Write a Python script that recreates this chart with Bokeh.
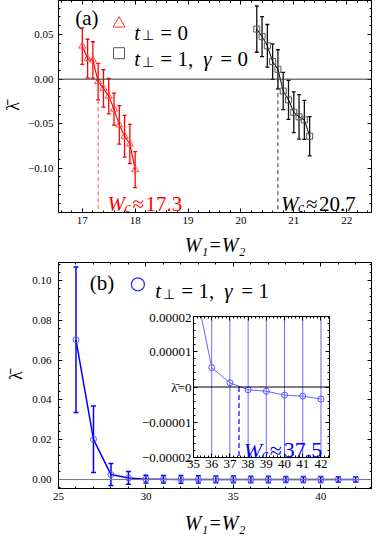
from bokeh.plotting import figure
from bokeh.models import (Range1d, SingleIntervalTicker, CustomJSTickFormatter, LinearAxis,
                          Span, Whisker, TeeHead, ColumnDataSource, Label)
from bokeh.layouts import column
from bokeh.embed import file_html
from bokeh.resources import INLINE

FONT = "Liberation Serif"

# ---------------- panel (a) data ----------------
w_red = [17.0, 17.1, 17.2, 17.3, 17.4, 17.5, 17.6, 17.7, 17.8, 17.9, 18.0]
lam_red = [0.0372, 0.0232, 0.0216, -0.0028, -0.0104, -0.0191, -0.0337, -0.0514, -0.0642, -0.0729, -0.1018]
err_red = [0.0205, 0.0217, 0.0205, 0.0205, 0.0210, 0.0200, 0.0180, 0.0217, 0.0234, 0.0220, 0.0203]

w_blk = [20.3, 20.4, 20.5, 20.6, 20.7, 20.8, 20.9, 21.0, 21.1, 21.2, 21.3]
lam_blk = [0.0563, 0.0479, 0.0375, 0.0198, 0.0111, -0.0133, -0.0233, -0.0372, -0.0424, -0.0458, -0.0642]
err_blk = [0.0260, 0.0225, 0.0240, 0.0200, 0.0220, 0.0210, 0.0220, 0.0230, 0.0250, 0.0220, 0.0220]

wc_red = 17.3
wc_blk = 20.7

# ---------------- panel (b) data ----------------
w_blue = [26, 27, 28, 29, 30, 31, 32, 33, 34, 35, 36, 37, 38, 39, 40, 41, 42]
lam_blue = [0.0702, 0.0202, 0.0025, 0.0008, 0.0002, 0.00012, 0.00008, 0.00005, 0.00004,
            0.000031, 0.0000055, 0.0000012, -0.0000008, -0.0000012, -0.0000023, -0.0000026, -0.0000034]
err_blue = [0.0365, 0.0167, 0.0055, 0.0032, 0.0020, 0.0019, 0.0019, 0.0018, 0.0017,
            0.0017, 0.0016, 0.0016, 0.0015, 0.0015, 0.0015, 0.0014, 0.0014]
wc_blue = 37.5
inset_min_w = 35


def style_axis(ax, fs="11px"):
    ax.major_tick_in = 4
    ax.major_tick_out = 0
    ax.minor_tick_in = 2
    ax.minor_tick_out = 0
    ax.axis_line_color = "black"
    ax.major_tick_line_color = "black"
    ax.minor_tick_line_color = "black"
    ax.major_label_text_font = FONT
    ax.major_label_text_font_size = fs
    ax.major_label_text_color = "black"
    ax.axis_label_text_font = FONT
    ax.axis_label_text_color = "black"


def add_frame_axes(p, xt, yt):
    for loc, tk in (("above", xt), ("right", yt)):
        ax = LinearAxis(ticker=tk, formatter=CustomJSTickFormatter(code="return '';"),
                        major_label_standoff=0)
        style_axis(ax, "0px")
        p.add_layout(ax, loc)


def lab(p, x, y, txt, size, color, italic=False, dx=0, dy=0, align="left", baseline="alphabetic"):
    p.add_layout(Label(x=x, y=y, text=txt, x_offset=dx, y_offset=dy, text_font=FONT,
                       text_font_size=f"{size}px", text_color=color,
                       text_font_style="italic" if italic else "normal",
                       text_align=align, text_baseline=baseline))


fmt2 = CustomJSTickFormatter(code="""
if (Math.abs(tick) < 1e-9) return '0.00';
var s = Math.abs(tick).toFixed(2);
return (tick < 0 ? '\u2212' : '') + s;
""")

# ================= panel (a) =================
p1 = figure(width=374, height=258, x_range=Range1d(16.55, 22.47), y_range=Range1d(-0.15, 0.0885),
            output_backend="svg", toolbar_location=None,
            min_border_left=55, min_border_right=1, min_border_top=0, min_border_bottom=40,
            outline_line_color="black", background_fill_color="white", border_fill_color="white")
p1.grid.visible = False
xt1 = SingleIntervalTicker(interval=1, num_minor_ticks=5)
yt1 = SingleIntervalTicker(interval=0.05, num_minor_ticks=5)
p1.xaxis.ticker = xt1
p1.yaxis.ticker = yt1
p1.yaxis.formatter = fmt2
style_axis(p1.xaxis[0])
style_axis(p1.yaxis[0])
p1.xaxis.major_label_standoff = 4
p1.yaxis.major_label_standoff = 5
p1.xaxis.axis_label = "W\u2081=W\u2082"
p1.xaxis.axis_label_text_font_size = "20px"
p1.xaxis.axis_label_text_font_style = "italic"
p1.xaxis.axis_label_standoff = 7
p1.yaxis.axis_label = "\u03bb\u0304"
p1.yaxis.axis_label_text_font_size = "18px"
p1.yaxis.axis_label_text_font_style = "normal"
p1.yaxis.axis_label_standoff = 2
add_frame_axes(p1, xt1, yt1)

p1.add_layout(Span(location=0, dimension="width", line_color="#333333", line_width=1))
p1.segment(x0=[wc_red], y0=[0], x1=[wc_red], y1=[p1.y_range.start],
           line_color="#ff5555", line_dash="4 3", line_width=1)
p1.segment(x0=[wc_blk], y0=[0], x1=[wc_blk], y1=[p1.y_range.start],
           line_color="#333333", line_dash="4 3", line_width=1)

src_r = ColumnDataSource(dict(x=w_red, y=lam_red,
                              lo=[a - b for a, b in zip(lam_red, err_red)],
                              hi=[a + b for a, b in zip(lam_red, err_red)]))
src_k = ColumnDataSource(dict(x=w_blk, y=lam_blk,
                              lo=[a - b for a, b in zip(lam_blk, err_blk)],
                              hi=[a + b for a, b in zip(lam_blk, err_blk)]))
p1.add_layout(Whisker(source=src_r, base="x", lower="lo", upper="hi", line_color="#ff0000", line_width=1.3,
                      upper_head=TeeHead(size=4, line_color="#ff0000", line_width=1.3),
                      lower_head=TeeHead(size=4, line_color="#ff0000", line_width=1.3)))
p1.add_layout(Whisker(source=src_k, base="x", lower="lo", upper="hi", line_color="#111111", line_width=1.3,
                      upper_head=TeeHead(size=4, line_color="#111111", line_width=1.3),
                      lower_head=TeeHead(size=4, line_color="#111111", line_width=1.3)))
p1.line("x", "y", source=src_r, line_color="#ff0000", line_width=1.2)
p1.scatter("x", "y", source=src_r, marker="triangle", size=7, fill_color=None, line_color="#ff4444")
p1.line("x", "y", source=src_k, line_color="#000000", line_width=1)
p1.scatter("x", "y", source=src_k, marker="square", size=6, fill_color=None, line_color="#555555")

# legend (a)
lab(p1, 17.085, 0.0693, "(a)", 21, "black", align="center", baseline="middle")
p1.scatter(x=[17.695], y=[0.0625], marker="triangle", size=12, fill_color=None, line_color="#ff3333")
p1.scatter(x=[17.695], y=[0.0292], marker="square", size=11, fill_color=None, line_color="#555555")
for yb, parts in ((0.0521, [("t", True, 0, 0, 21), ("\u22a5", False, 8, -3, 14), ("= 0", False, 26, 0, 21)]),
                  (0.0226, [("t", True, 0, 0, 21), ("\u22a5", False, 8, -3, 14), ("= 1,", False, 26, 0, 21),
                            ("\u03b3", True, 69, 0, 21), ("= 0", False, 86, 0, 21)])):
    for txt, it, dx, dy, fs in parts:
        lab(p1, 17.985, yb, txt, fs, "black", italic=it, dx=dx, dy=dy)

# W_c labels (a)
for xa, col, val in ((17.476, "#ff0000", "17.3"), (20.76, "black", "20.7")):
    lab(p1, xa, -0.1399, "W", 21, col, italic=True)
    lab(p1, xa, -0.1399, "c", 14, col, italic=True, dx=17, dy=-4)
    lab(p1, xa, -0.1399, "\u2248", 21, col, dx=25)
    lab(p1, xa, -0.1399, val, 21, col, dx=38)

# ================= panel (b) =================
p2 = figure(width=374, height=278, x_range=Range1d(25.0, 42.9), y_range=Range1d(-0.0045, 0.109),
            output_backend="svg", toolbar_location=None,
            min_border_left=50, min_border_right=3, min_border_top=4, min_border_bottom=48,
            outline_line_color="black", background_fill_color="white", border_fill_color="white")
p2.grid.visible = False
xt2 = SingleIntervalTicker(interval=5, num_minor_ticks=5)
yt2 = SingleIntervalTicker(interval=0.02, num_minor_ticks=5)
p2.xaxis.ticker = xt2
p2.yaxis.ticker = yt2
p2.yaxis.formatter = fmt2
style_axis(p2.xaxis[0])
style_axis(p2.yaxis[0])
p2.xaxis.major_label_standoff = 4
p2.yaxis.major_label_standoff = 7
p2.xaxis.axis_label = "W\u2081=W\u2082"
p2.xaxis.axis_label_text_font_size = "20px"
p2.xaxis.axis_label_text_font_style = "italic"
p2.xaxis.axis_label_standoff = 9
p2.yaxis.axis_label = "\u03bb\u0304"
p2.yaxis.axis_label_text_font_size = "18px"
p2.yaxis.axis_label_text_font_style = "normal"
p2.yaxis.axis_label_standoff = 3
add_frame_axes(p2, xt2, yt2)

p2.add_layout(Span(location=0, dimension="width", line_color="#777777", line_width=1))
src_b = ColumnDataSource(dict(x=w_blue, y=lam_blue,
                              lo=[a - b for a, b in zip(lam_blue, err_blue)],
                              hi=[a + b for a, b in zip(lam_blue, err_blue)]))
p2.add_layout(Whisker(source=src_b, base="x", lower="lo", upper="hi", line_color="#0000ff", line_width=1.5,
                      upper_head=TeeHead(size=5, line_color="#0000ff", line_width=1.5),
                      lower_head=TeeHead(size=5, line_color="#0000ff", line_width=1.5)))
p2.line("x", "y", source=src_b, line_color="#0000ff", line_width=1.5)
p2.scatter("x", "y", source=src_b, marker="circle", size=6, fill_color=None, line_color="#5555ff")

lab(p2, 27.49, 0.0986, "(b)", 21, "black", align="center", baseline="middle")
p2.scatter(x=[29.54], y=[0.098], marker="circle", size=13, fill_color=None, line_color="#3333ff", line_width=1.3)
for txt, it, dx, dy, fs in [("t", True, 0, 0, 21), ("\u22a5", False, 8, -3, 14), ("= 1,", False, 26, 0, 21),
                            ("\u03b3", True, 69, 0, 21), ("= 1", False, 86, 0, 21)]:
    lab(p2, 30.54, 0.0946, txt, fs, "black", italic=it, dx=dx, dy=dy)

# ================= inset =================
ins_i = [i for i, w in enumerate(w_blue) if w >= inset_min_w]
ins_w = [w_blue[i] for i in ins_i]
ins_y = [lam_blue[i] for i in ins_i]
ins_e = [err_blue[i] for i in ins_i]
pi = figure(width=195, height=164, x_range=Range1d(35, 42.47), y_range=Range1d(-2e-5, 2e-5),
            output_backend="svg", toolbar_location=None,
            min_border_left=52, min_border_right=4, min_border_top=7, min_border_bottom=16,
            outline_line_color="black", background_fill_color="white", border_fill_alpha=0,
            styles={"position": "absolute", "left": "138px", "top": "309px"})
pi.grid.visible = False
xti = SingleIntervalTicker(interval=1, num_minor_ticks=5)
yti = SingleIntervalTicker(interval=1e-5, num_minor_ticks=5)
pi.xaxis.ticker = xti
pi.yaxis.ticker = yti
pi.yaxis.formatter = CustomJSTickFormatter(code="""
if (Math.abs(tick) < 1e-12) return '\u03bb\u0304=0';
return (tick < 0 ? '\u2212' : '') + Math.abs(tick).toFixed(5);
""")
pi.xaxis.formatter = CustomJSTickFormatter(code="return tick.toFixed(0);")
style_axis(pi.xaxis[0], "13px")
style_axis(pi.yaxis[0], "13px")
pi.xaxis.major_label_standoff = 2
pi.yaxis.major_label_standoff = 2
add_frame_axes(pi, xti, yti)

src_i = ColumnDataSource(dict(x=ins_w, y=ins_y,
                              lo=[a - b for a, b in zip(ins_y, ins_e)],
                              hi=[a + b for a, b in zip(ins_y, ins_e)]))
pi.add_layout(Whisker(source=src_i, base="x", lower="lo", upper="hi", line_color="#4444ff",
                      line_alpha=0.8, line_width=1, upper_head=None, lower_head=None))
pi.add_layout(Span(location=0, dimension="width", line_color="black", line_width=1))
pi.segment(x0=[wc_blue], y0=[0], x1=[wc_blue], y1=[pi.y_range.start],
           line_color="#6666ff", line_dash="5 3", line_width=2)
pi.line("x", "y", source=src_i, line_color="#6666ff", line_width=1)
pi.scatter("x", "y", source=src_i, marker="circle", size=6, fill_color=None, line_color="#5555ff")

xa = 37.766
ya = -1.80e-5
lab(pi, xa, ya, "W", 22, "#0000ff", italic=True)
lab(pi, xa, ya, "c", 15, "#0000ff", italic=True, dx=18, dy=-4)
lab(pi, xa, ya, "\u2248", 22, "#0000ff", dx=26)
lab(pi, xa, ya, "37.5", 22, "#0000ff", dx=40)

layout = column(p1, p2)
open("out.html", "w", encoding="utf-8").write(file_html([layout, pi], INLINE))
